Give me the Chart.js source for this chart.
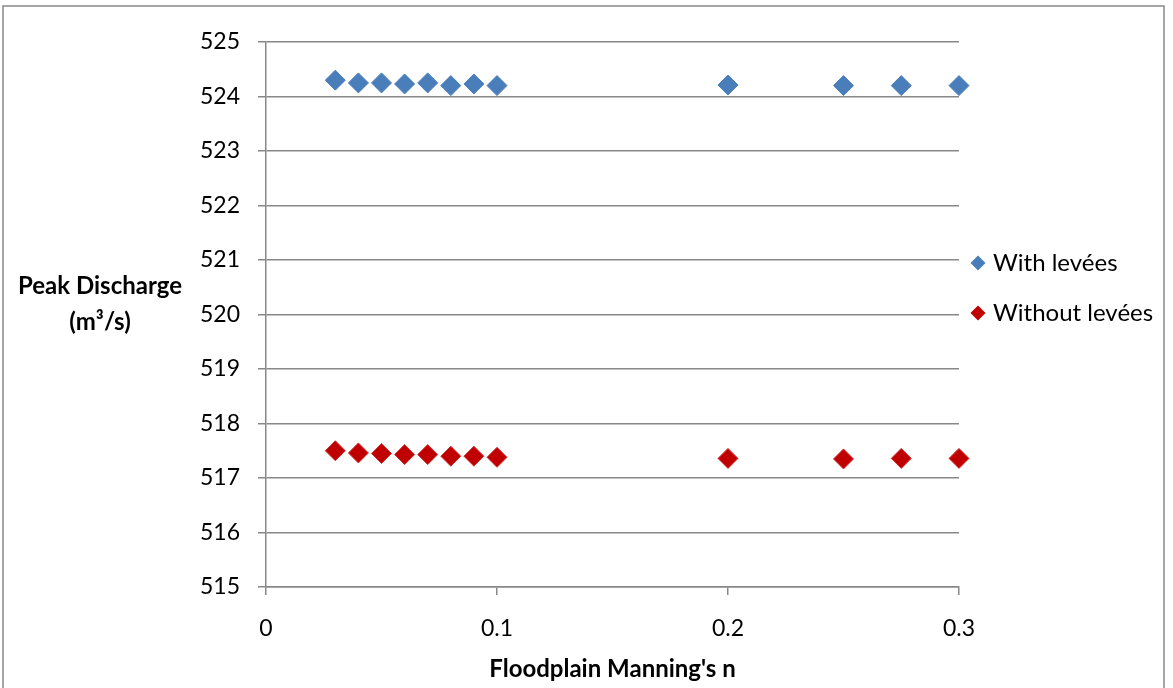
<!DOCTYPE html>
<html>
<head>
<meta charset="utf-8">
<script src="https://cdn.jsdelivr.net/npm/chart.js@4/dist/chart.umd.min.js"></script>
<style>
  body { margin: 0; background: #fff; }
  #wrap { width: 1173px; height: 688px; position: relative; }
</style>
</head>
<body>
<div id="wrap"><canvas id="myChart" width="1173" height="688"></canvas></div>
<script>
// Floodplain Manning's n values
const manningN = [0.03, 0.04, 0.05, 0.06, 0.07, 0.08, 0.09, 0.1, 0.2, 0.25, 0.275, 0.3];
// Peak discharge (m3/s)
const withLevees = [524.30, 524.25, 524.25, 524.23, 524.25, 524.20, 524.23, 524.20, 524.21, 524.20, 524.20, 524.20];
const withoutLevees = [517.50, 517.46, 517.45, 517.43, 517.43, 517.40, 517.40, 517.38, 517.36, 517.35, 517.36, 517.36];
const seriesNames = ['With levées', 'Without levées'];
const xTicks = [0, 0.1, 0.2, 0.3];
const yTicks = [515, 516, 517, 518, 519, 520, 521, 522, 523, 524, 525];

const FONT = 'Lato, "Liberation Sans", sans-serif';
const GRID = '#888888';
const BLUE = '#4a7ebb';
const RED = '#c00000';

function toPoints(ys) {
    return manningN.map(function(x, i) { return {x: x, y: ys[i]}; });
}

// draws the frame, the horizontal y title and the legend
const extras = {
    id: 'extras',
    beforeDraw: function(chart) {
        const ctx = chart.ctx;
        ctx.save();
        ctx.strokeStyle = GRID;
        ctx.lineWidth = 1.5;
        ctx.strokeRect(3, 6, 1161, 700);
        ctx.restore();
    },
    afterDraw: function(chart) {
        const ctx = chart.ctx;
        ctx.save();
        ctx.fillStyle = '#000';
        ctx.textAlign = 'center';
        ctx.textBaseline = 'middle';
        ctx.font = 'bold 24px ' + FONT;
        ctx.fillText('Peak Discharge', 100, 286);
        ctx.fillText('(m³/s)', 100, 322);

        // legend
        const items = [[seriesNames[0], BLUE, 263], [seriesNames[1], RED, 313]];
        ctx.font = '24px ' + FONT;
        ctx.textAlign = 'left';
        for (const it of items) {
            const cx = 978, cy = it[2], r = 7.5;
            ctx.fillStyle = it[1];
            ctx.beginPath();
            ctx.moveTo(cx, cy - r);
            ctx.lineTo(cx + r, cy);
            ctx.lineTo(cx, cy + r);
            ctx.lineTo(cx - r, cy);
            ctx.closePath();
            ctx.fill();
            ctx.fillStyle = '#000';
            ctx.fillText(it[0], 993, cy);
        }
        ctx.restore();
    }
};

const ctx = document.getElementById('myChart').getContext('2d');
const myChart = new Chart(ctx, {
    type: 'scatter',
    data: {
        datasets: [{
            label: seriesNames[0],
            data: toPoints(withLevees),
            pointStyle: 'rectRot',
            pointRadius: 10,
            backgroundColor: BLUE,
            borderColor: BLUE,
            borderWidth: 1,
            clip: false
        }, {
            label: seriesNames[1],
            data: toPoints(withoutLevees),
            pointStyle: 'rectRot',
            pointRadius: 10,
            backgroundColor: RED,
            borderColor: '#cc3333',
            borderWidth: 1,
            clip: false
        }]
    },
    options: {
        responsive: false,
        animation: false,
        layout: { padding: { left: 0, right: 214, top: 42, bottom: 0 } },
        plugins: {
            legend: { display: false },
            tooltip: { enabled: false }
        },
        scales: {
            x: {
                type: 'linear',
                min: 0,
                max: 0.3,
                afterFit: function(scale) { scale.height = 101; },
                afterBuildTicks: function(scale) {
                    scale.ticks = xTicks.map(function(v) { return {value: v}; });
                },
                ticks: {
                    padding: 20,
                    color: '#000',
                    font: { family: FONT, size: 23 },
                    callback: function(v) { return String(v); }
                },
                grid: {
                    drawOnChartArea: false,
                    tickLength: 8,
                    color: GRID,
                    lineWidth: 1.5
                },
                border: { color: GRID, width: 1.5 },
                title: {
                    display: true,
                    text: "Floodplain Manning's n",
                    color: '#000',
                    font: { family: FONT, size: 24, weight: 'bold' },
                    padding: { top: 0, bottom: 4 }
                }
            },
            y: {
                min: 515,
                max: 525,
                afterFit: function(scale) { scale.width = 266; },
                afterBuildTicks: function(scale) {
                    scale.ticks = yTicks.map(function(v) { return {value: v}; });
                },
                ticks: {
                    padding: 18,
                    color: '#000',
                    font: { family: FONT, size: 23 }
                },
                grid: {
                    tickLength: 8,
                    color: GRID,
                    lineWidth: 1.5
                },
                border: { color: GRID, width: 1.5 }
            }
        }
    },
    plugins: [extras]
});
</script>
</body>
</html>
